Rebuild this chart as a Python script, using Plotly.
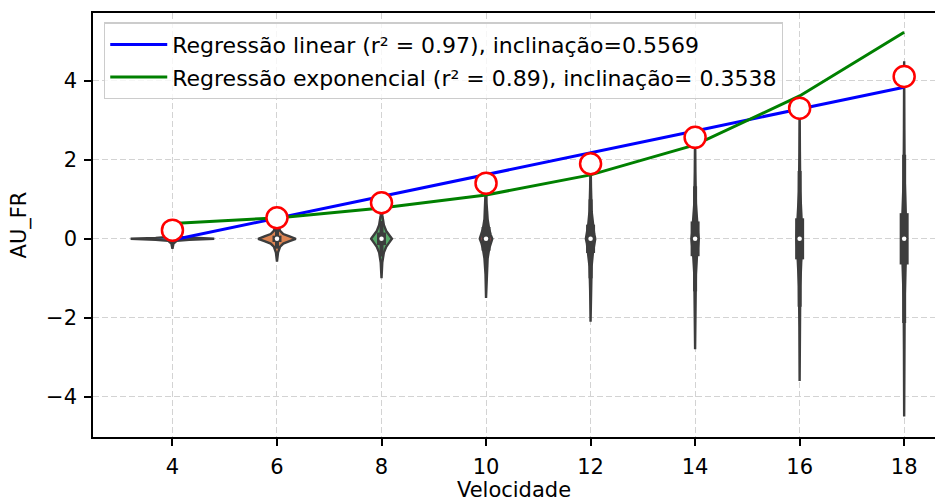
import plotly.graph_objects as go

# ---------------- data ----------------
velocidade = [4, 6, 8, 10, 12, 14, 16, 18]
medias = [0.22, 0.535, 0.915, 1.41, 1.90, 2.57, 3.31, 4.11]
reg_linear = [-0.03, 0.52, 1.08, 1.63, 2.18, 2.73, 3.29, 3.84]
reg_exponencial = [0.39, 0.53, 0.78, 1.11, 1.62, 2.38, 3.62, 5.23]

# violin outlines: y levels and half-widths (in x units)
violin_y = [
    [-0.25, -0.12, -0.05, -0.025, 0.0, 0.025, 0.05, 0.12, 0.25],
    [-0.58, -0.35, -0.2, -0.12, -0.06, 0.0, 0.06, 0.12, 0.2, 0.35, 0.58],
    [-1.0, -0.6, -0.35, -0.2, -0.09, 0.0, 0.09, 0.2, 0.35, 0.6, 1.0],
    [-1.5, -0.9, -0.5, -0.25, -0.1, 0.0, 0.1, 0.25, 0.5, 0.9, 1.5],
    [-2.1, -1.3, -0.7, -0.35, -0.12, 0.0, 0.12, 0.35, 0.7, 1.3, 2.1],
    [-2.8, -1.7, -0.9, -0.45, -0.15, 0.0, 0.15, 0.45, 0.9, 1.7, 2.8],
    [-3.6, -2.2, -1.2, -0.6, -0.2, 0.0, 0.2, 0.6, 1.2, 2.2, 3.6],
    [-4.5, -2.8, -1.5, -0.75, -0.25, 0.0, 0.25, 0.75, 1.5, 2.8, 4.5],
]
violin_w = [
    [0.0, 0.02, 0.08, 0.32, 0.8, 0.32, 0.08, 0.02, 0.0],
    [0.0, 0.02, 0.06, 0.12, 0.24, 0.36, 0.24, 0.12, 0.06, 0.02, 0.0],
    [0.0, 0.015, 0.045, 0.09, 0.15, 0.2, 0.15, 0.09, 0.045, 0.015, 0.0],
    [0.0, 0.01, 0.03, 0.06, 0.09, 0.12, 0.09, 0.06, 0.03, 0.01, 0.0],
    [0.0, 0.008, 0.02, 0.045, 0.07, 0.09, 0.07, 0.045, 0.02, 0.008, 0.0],
    [0.0, 0.006, 0.015, 0.035, 0.055, 0.07, 0.055, 0.035, 0.015, 0.006, 0.0],
    [0.0, 0.005, 0.012, 0.03, 0.048, 0.06, 0.048, 0.03, 0.012, 0.005, 0.0],
    [0.0, 0.004, 0.01, 0.025, 0.04, 0.05, 0.04, 0.025, 0.01, 0.004, 0.0],
]
whisker_lo = [-0.12, -0.25, -0.45, -0.72, -1.0, -1.33, -1.72, -2.13]
whisker_hi = [0.12, 0.25, 0.45, 0.72, 1.0, 1.33, 1.72, 2.13]
q1 = [-0.03, -0.08, -0.16, -0.3, -0.36, -0.44, -0.52, -0.65]
q3 = [0.03, 0.08, 0.16, 0.3, 0.36, 0.44, 0.52, 0.65]
medianas = [0.0, 0.0, 0.0, 0.0, 0.0, 0.0, 0.0, 0.0]

palette = ['#4c72b0', '#dd8452', '#55a868', '#c44e52',
           '#8172b3', '#937860', '#da8bc3', '#8c8c8c']
edge = '#3d3d3d'
FONT = 'DejaVu Sans'

fig = go.Figure()

# violins
for i, c in enumerate(velocidade):
    ys = violin_y[i]
    ws = violin_w[i]
    xs = [c + w for w in ws] + [c - w for w in reversed(ws)]
    yy = list(ys) + list(reversed(ys))
    fig.add_trace(go.Scatter(x=xs, y=yy, mode='lines', fill='toself',
                             fillcolor=palette[i],
                             line=dict(color=edge, width=2.4),
                             showlegend=False, hoverinfo='skip'))
    fig.add_trace(go.Scatter(x=[c, c], y=[whisker_lo[i], whisker_hi[i]],
                             mode='lines', line=dict(color=edge, width=4),
                             showlegend=False, hoverinfo='skip'))
    fig.add_trace(go.Scatter(x=[c, c], y=[q1[i], q3[i]],
                             mode='lines', line=dict(color=edge, width=9),
                             showlegend=False, hoverinfo='skip'))

fig.add_trace(go.Scatter(x=velocidade, y=medianas, mode='markers',
                         marker=dict(color='white', size=4.5, line=dict(width=0)),
                         showlegend=False, hoverinfo='skip'))

# regression lines
fig.add_trace(go.Scatter(x=velocidade, y=reg_linear, mode='lines',
                         line=dict(color='#0000ff', width=3),
                         name='Regressão linear (r² = 0.97), inclinação=0.5569',
                         legendgroup='a'))
fig.add_trace(go.Scatter(x=velocidade, y=reg_exponencial, mode='lines',
                         line=dict(color='#008000', width=3),
                         name='Regressão exponencial (r² = 0.89), inclinação= 0.3538',
                         legendgroup='b'))

# means
fig.add_trace(go.Scatter(x=velocidade, y=medias, mode='markers',
                         marker=dict(color='white', size=21,
                                     line=dict(color='#ff0000', width=2.5)),
                         showlegend=False))

axis_common = dict(showline=True, linecolor='black', linewidth=1.6,
                   ticks='outside', ticklen=7, tickwidth=1.6, tickcolor='black',
                   showgrid=True, gridcolor='#d3d3d3', gridwidth=1.3,
                   griddash='6px,3px', zeroline=False,
                   tickfont=dict(family=FONT, size=21, color='black'))

fig.update_layout(
    width=935, height=502,
    margin=dict(l=93, r=0, t=13, b=65),
    plot_bgcolor='white', paper_bgcolor='white',
    font=dict(family=FONT, size=21, color='black'),
    xaxis=dict(range=[2.48, 18.59], tickvals=velocidade,
               ticktext=[str(v) for v in velocidade],
               mirror=True, ticklabelstandoff=3,
               title=dict(text='Velocidade', standoff=8,
                          font=dict(family=FONT, size=21, color='black')),
               **axis_common),
    yaxis=dict(range=[-5.02, 5.72], tickvals=[-4, -2, 0, 2, 4],
               ticktext=['−4', '−2', '0', '2', '4'],
               ticklabelstandoff=3,
               title=dict(text='AU_FR', standoff=14,
                          font=dict(family=FONT, size=21, color='black')),
               **axis_common),
    legend=dict(x=0.013, y=0.978, xanchor='left', yanchor='top',
                bgcolor='rgba(255,255,255,0.8)', bordercolor='#cccccc',
                borderwidth=1.3, tracegroupgap=1, itemwidth=57,
                font=dict(family=FONT, size=22, color='black')),
    showlegend=True,
)

fig.write_html('out.html')
